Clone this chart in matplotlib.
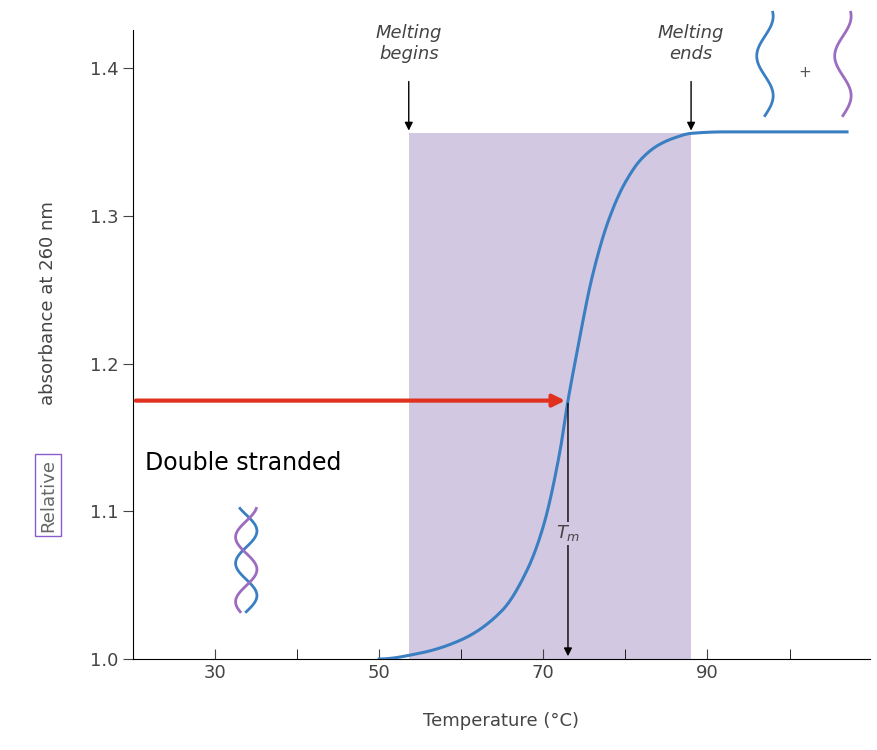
import matplotlib
matplotlib.use("Agg")
import matplotlib.pyplot as plt
import numpy as np
from matplotlib.patches import Rectangle

temps = [50, 55, 60, 65, 68, 70, 72, 73, 74, 76, 78, 80, 82, 84, 86, 88, 92, 107]
absorb = [1.0, 1.004, 1.013, 1.033, 1.06, 1.09, 1.14, 1.175, 1.205, 1.26, 1.298, 1.323, 1.339, 1.348, 1.353, 1.356, 1.357, 1.357]
xticks = [30, 50, 70, 90]
yticks = [1.0, 1.1, 1.2, 1.3, 1.4]
melt_begin, melt_end, tm, tm_abs, top_abs = 53.6, 88.0, 73.0, 1.175, 1.356

fig = plt.figure(figsize=(8.78, 7.5), dpi=100)
ax = fig.add_axes([133/878, 91/750, 737/878, (659-30)/750])
ax.set_xlim(20, 109.8)
ax.set_ylim(1.0, 1.426)

def pchip(x, y, xn):
    x = np.asarray(x, float); y = np.asarray(y, float)
    h = np.diff(x); d = np.diff(y)/h
    m = np.zeros_like(y)
    for k in range(1, len(x)-1):
        if d[k-1]*d[k] > 0:
            w1 = 2*h[k]+h[k-1]; w2 = h[k]+2*h[k-1]
            m[k] = (w1+w2)/(w1/d[k-1]+w2/d[k])
    out = []
    for v in xn:
        k = min(max(np.searchsorted(x, v)-1, 0), len(x)-2)
        t = (v-x[k])/h[k]
        h00 = 2*t**3-3*t**2+1; h10 = t**3-2*t**2+t; h01 = -2*t**3+3*t**2; h11 = t**3-t**2
        out.append(h00*y[k]+h10*h[k]*m[k]+h01*y[k+1]+h11*h[k]*m[k+1])
    return np.array(out)
xs = np.linspace(temps[0], temps[-1], 500)
ys = pchip(temps, absorb, xs)

ax.add_patch(Rectangle((melt_begin, 1.0), melt_end-melt_begin, top_abs-1.0, color="#d3c8e2", zorder=0, lw=0))
ax.plot(xs, ys, color="#3a7fc1", lw=2.2, zorder=3)

ax.annotate("", xy=(tm, tm_abs), xytext=(20, tm_abs),
            arrowprops=dict(arrowstyle="-|>", color="#e0301e", lw=3, mutation_scale=18), zorder=4)
ax.annotate("", xy=(tm, 1.0), xytext=(tm, tm_abs),
            arrowprops=dict(arrowstyle="-|>", color="black", lw=1, mutation_scale=12))
ax.text(tm, 1.085, r"$T_m$", ha="center", va="center", fontsize=13, color="#444",
        bbox=dict(facecolor="#d3c8e2", edgecolor="none", pad=1))

for xm in (melt_begin, melt_end):
    ax.annotate("", xy=(xm, top_abs), xytext=(xm, 1.393),
                arrowprops=dict(arrowstyle="-|>", color="black", lw=1, mutation_scale=12), annotation_clip=False)
ax.text(melt_begin, 1.417, "Melting\nbegins", ha="center", va="center", fontsize=13, style="italic", color="#444")
ax.text(melt_end, 1.417, "Melting\nends", ha="center", va="center", fontsize=13, style="italic", color="#444")

ax.text(21.5, 1.133, "Double stranded", fontsize=17, va="center", zorder=5)

t = np.linspace(0, 1, 120)
cx, y0, y1 = 33.8, 1.032, 1.102
ax.plot(cx + 1.3*np.sin(t*3.2*np.pi), y0 + (y1-y0)*t, color="#3a7fc1", lw=2)
ax.plot(cx - 1.3*np.sin(t*3.2*np.pi+0.6), y0 + (y1-y0)*t, color="#9b6cc0", lw=2)
ax.plot(97 + 1.0*np.sin(t*2.6*np.pi), 1.368 + 0.07*t, color="#3a7fc1", lw=2, clip_on=False)
ax.plot(106.5 + 1.0*np.sin(t*2.6*np.pi), 1.368 + 0.07*t, color="#9b6cc0", lw=2, clip_on=False)
ax.text(101.8, 1.397, "+", fontsize=11, color="#555", ha="center", va="center")

ax.set_xticks(xticks)
ax.set_xticks([40, 60, 80, 100], minor=True)
ax.set_yticks(yticks)
ax.set_yticklabels([f"{v:.1f}" for v in yticks])
ax.tick_params(labelsize=13, colors="#444", length=7)
ax.tick_params(axis="x", which="both", direction="in", length=7)
for s in ["top", "right"]:
    ax.spines[s].set_visible(False)
ax.set_xlabel("Temperature (°C)", fontsize=13, color="#444", labelpad=22)
fig.text(48/878, 1-495/750, "Relative", rotation=90, fontsize=13, color="#666", ha="center", va="center",
         bbox=dict(facecolor="none", edgecolor="#8a5cd0", pad=3))
fig.text(48/878, 1-303/750, "absorbance at 260 nm", rotation=90, fontsize=13, color="#444", ha="center", va="center")

fig.savefig("out.png", dpi=100)
